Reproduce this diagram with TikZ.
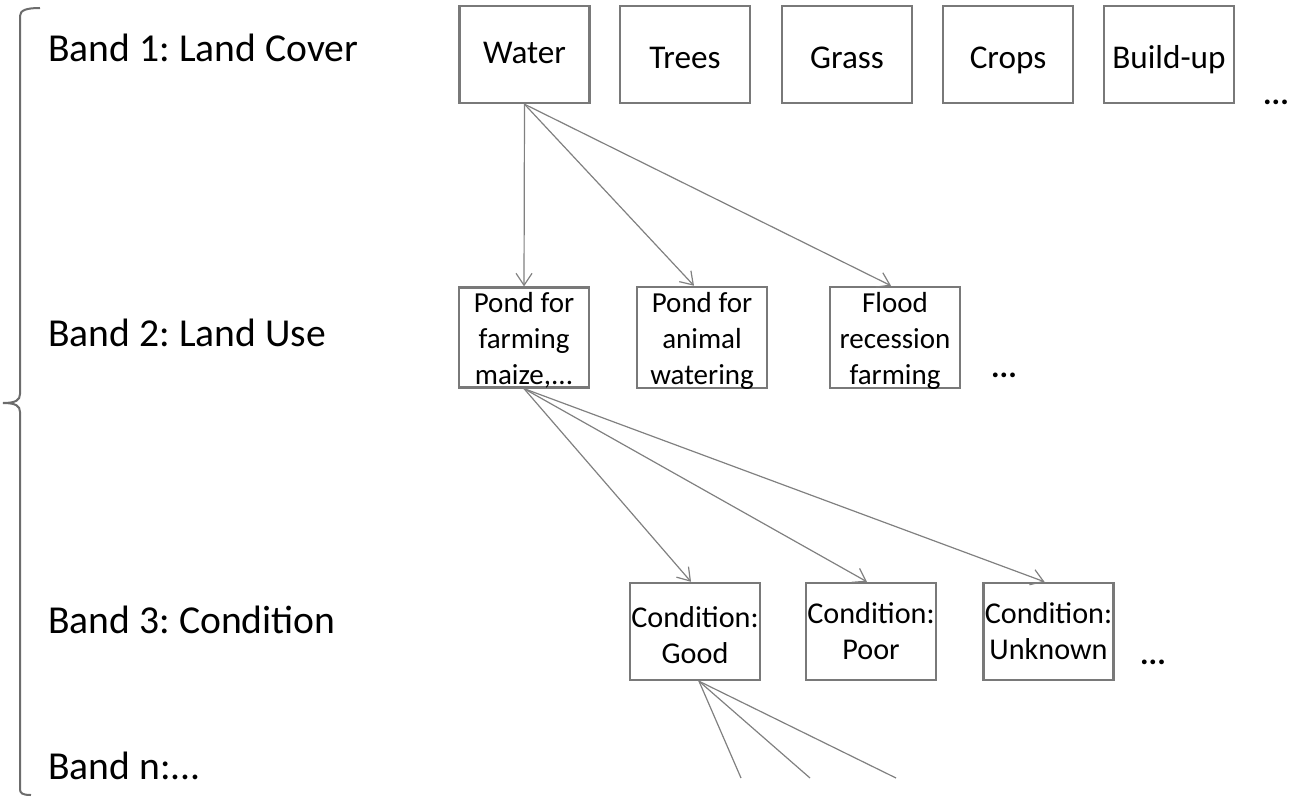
\documentclass[tikz,border=0pt]{standalone}
\usepackage{fontspec}
\setmainfont{Carlito}
\usetikzlibrary{arrows.meta}
\newcommand{\drop}[2]{\raisebox{-#1}[\height][\depth]{#2}}

\begin{document}
\frenchspacing
\begin{tikzpicture}[x=0.5pt, y=-0.5pt,
  box/.style={draw=gray!95!black, line width=1.2pt, minimum width=65pt, minimum height=48.5pt, inner sep=1pt, align=center, font=\fontsize{16.6}{18}\selectfont},
  classbox/.style={box, text height=16pt, text depth=2pt},
  smallbox/.style={box, font=\fontsize{14.5}{18}\selectfont},
  condbox/.style={box, inner xsep=0pt, font=\fontsize{15.1}{18}\selectfont},
  bandlabel/.style={anchor=west, inner sep=0pt, font=\fontsize{19.8}{22}\selectfont},
  dots/.style={inner sep=0pt, font=\fontsize{16}{18}\selectfont\bfseries},
  link/.style={draw=gray, line width=0.6pt, -{Straight Barb[length=6pt, width=8pt, line width=0.6pt]}},
  tail/.style={draw=gray, line width=0.6pt}]
  \useasboundingbox (0,0) rectangle (1299,797);

  \draw[gray!85!black, line width=1pt] (40,8) .. controls (27,8) and (20,10) .. (20,16) -- (20,394) .. controls (20,400) and (16,403) .. (3,403);
  \draw[gray!85!black, line width=1pt] (3,403) .. controls (16,403) and (20,406) .. (20,412) -- (20,789) .. controls (20,793) and (22,795) .. (31,795);

  \node[bandlabel] (band1) at (48,48) {Band 1: Land Cover};
  \node[bandlabel] (band2) at (48,333) {Band 2: Land Use};
  \node[bandlabel] (band3) at (48,620) {Band 3: Condition};
  \node[bandlabel] (bandn) at (48,766) {Band n:...};

  \node[box, text height=11pt, text depth=2pt] (water) at (524.5,54.5) {Water};
  \node[classbox] (trees) at (685,54.5) {Trees};
  \node[classbox] (grass) at (847,54.5) {Grass};
  \node[classbox] (crops) at (1008,54.5) {Crops};
  \node[classbox] (buildup) at (1169,54.5) {Build-up};
  \node[dots] (dots1) at (1276,102) {...};

  \node[smallbox] (pondfarm) at (524,337.5) {\drop{1.5pt}{Pond for}\\\drop{1.5pt}{farming}\\\drop{1.5pt}{maize,...}};
  \node[smallbox] (pondanimal) at (702,337.5) {\drop{1.5pt}{Pond for}\\\drop{1.5pt}{animal}\\\drop{1.5pt}{watering}};
  \node[smallbox] (flood) at (895,337.5) {\drop{1.5pt}{Flood}\\\drop{1.5pt}{recession}\\\drop{1.5pt}{farming}};
  \node[dots] (dots2) at (1004,375) {...};

  \node[condbox] (good) at (695,631.5) {\drop{2pt}{Condition:}\\\drop{2pt}{Good}};
  \node[condbox] (poor) at (871,631.5) {Condition:\\Poor};
  \node[condbox] (unknown) at (1048.5,631.5) {Condition:\\Unknown};
  \node[dots] (dots3) at (1153,662) {...};

  \coordinate (tailA) at (741,778);
  \coordinate (tailB) at (810,778);
  \coordinate (tailC) at (896,778);

  \draw[link] (water.south) -- (pondfarm.north);
  \draw[link] (water.south) -- ([xshift=-4pt]pondanimal.north);
  \draw[link] (water.south) -- ([xshift=-2pt]flood.north);

  \draw[link] (pondfarm.south) -- ([xshift=-2pt]good.north);
  \draw[link] (pondfarm.south) -- ([xshift=-2pt]poor.north);
  \draw[link] (pondfarm.south) -- ([xshift=-2pt]unknown.north);

  \draw[tail] ([xshift=2pt]good.south) -- (tailA);
  \draw[tail] ([xshift=2pt]good.south) -- (tailB);
  \draw[tail] ([xshift=2pt]good.south) -- (tailC);
\end{tikzpicture}
\end{document}
